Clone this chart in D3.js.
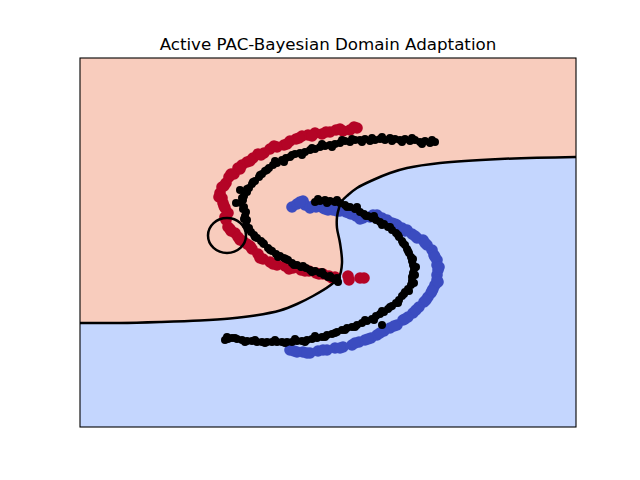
<!DOCTYPE html>
<html>
<head>
<meta charset="utf-8">
<script src="https://cdn.jsdelivr.net/npm/d3@7"></script>
<style>
  html, body { margin: 0; padding: 0; background: #ffffff; }
  svg { display: block; }
</style>
</head>
<body>
<svg id="chart" width="640" height="480"></svg>
<script>
// ---------------- data ----------------
const title = "Active PAC-Bayesian Domain Adaptation";
const xDomain = [-2.0, 2.96];
const yDomain = [-1.5, 2.19];

// labelled source points, class +1 (red)
const sourceRed = [
  [0.77,1.49],[0.70,1.47],[0.63,1.46],[0.56,1.47],[0.50,1.45],[0.42,1.43],[0.35,1.44],[0.28,1.42],
  [0.22,1.41],[0.16,1.38],[0.10,1.36],[0.04,1.32],[-0.03,1.30],[-0.10,1.28],[-0.16,1.24],[-0.22,1.23],
  [-0.27,1.19],[-0.33,1.15],[-0.38,1.12],[-0.42,1.09],[-0.46,1.03],[-0.51,1.00],[-0.54,0.94],[-0.58,0.90],
  [-0.60,0.84],[-0.58,0.79],[-0.57,0.74],[-0.55,0.69],[-0.52,0.64],[-0.54,0.57],[-0.52,0.50],[-0.49,0.46],
  [-0.45,0.44],[-0.42,0.40],[-0.37,0.36],[-0.33,0.33],[-0.28,0.28],[-0.22,0.23],[-0.17,0.18],[-0.10,0.15],
  [-0.03,0.12],[0.05,0.11],[0.13,0.09],[0.21,0.07],[0.29,0.06],[0.36,0.04],[0.43,0.03],[0.49,0.01],
  [0.55,0.00],[0.68,0.01],[0.69,-0.03],[0.80,-0.01],[0.84,-0.01],
  [0.74,1.50],[0.60,1.48],[0.46,1.45],[0.32,1.41],[0.19,1.39],[0.07,1.33],[-0.06,1.31],[-0.19,1.22],
  [-0.30,1.16],[-0.40,1.08],[-0.49,1.03],[-0.56,0.91],[-0.61,0.80],[-0.56,0.71],[-0.55,0.60],[-0.50,0.48],
  [-0.40,0.37],[-0.30,0.31],[-0.20,0.19],[-0.07,0.13],[0.09,0.08],[0.25,0.06],[0.39,0.03],[0.52,-0.01]
];

// labelled source points, class -1 (blue)
const sourceBlue = [
  [0.12,0.70],[0.17,0.73],[0.23,0.76],[0.25,0.72],[0.30,0.69],[0.36,0.70],[0.43,0.69],[0.48,0.67],
  [0.53,0.67],[0.60,0.66],[0.66,0.65],[0.71,0.63],[0.76,0.61],[0.83,0.59],[0.90,0.60],[0.97,0.62],
  [1.02,0.59],[1.07,0.57],[1.12,0.54],[1.17,0.52],[1.22,0.49],[1.27,0.47],[1.32,0.43],[1.37,0.39],
  [1.43,0.37],[1.47,0.32],[1.52,0.27],[1.54,0.22],[1.57,0.17],[1.57,0.12],[1.58,0.07],[1.57,0.02],
  [1.57,-0.03],[1.55,-0.08],[1.53,-0.12],[1.51,-0.16],[1.48,-0.20],[1.44,-0.25],[1.39,-0.30],[1.33,-0.36],
  [1.28,-0.40],[1.23,-0.43],[1.17,-0.48],[1.10,-0.51],[1.04,-0.54],[0.97,-0.58],[0.91,-0.61],[0.85,-0.63],
  [0.79,-0.65],[0.72,-0.68],[0.63,-0.70],[0.55,-0.71],[0.47,-0.73],[0.38,-0.74],[0.30,-0.76],[0.23,-0.75],
  [0.17,-0.75],[0.10,-0.73],
  [0.20,0.75],[0.33,0.71],[0.45,0.68],[0.57,0.66],[0.69,0.64],[0.80,0.58],[0.93,0.62],[1.05,0.56],
  [1.15,0.53],[1.25,0.46],[1.35,0.41],[1.45,0.34],[1.55,0.20],[1.59,0.10],[1.58,-0.05],[1.52,-0.14],
  [1.46,-0.23],[1.36,-0.33],[1.25,-0.42],[1.14,-0.49],[1.00,-0.56],[0.88,-0.62],[0.75,-0.66],[0.60,-0.71],
  [0.43,-0.73],[0.27,-0.76],[0.14,-0.74]
];

// unlabelled target points (black)
const target = [
  [1.55,1.35],[1.50,1.34],[1.45,1.36],[1.40,1.35],[1.35,1.37],[1.30,1.36],[1.25,1.38],[1.20,1.37],
  [1.15,1.38],[1.10,1.39],[1.05,1.37],[1.00,1.38],[0.95,1.37],[0.90,1.36],[0.85,1.38],[0.80,1.37],
  [0.75,1.37],[0.70,1.35],[0.65,1.36],[0.60,1.34],[0.55,1.33],[0.50,1.32],[0.45,1.31],[0.40,1.30],
  [0.35,1.28],[0.30,1.27],[0.25,1.25],[0.20,1.24],[0.15,1.23],[0.10,1.20],[0.06,1.19],[0.02,1.17],
  [-0.03,1.14],[-0.07,1.12],[-0.11,1.09],[-0.15,1.06],[-0.18,1.03],[-0.21,1.00],[-0.25,0.96],[-0.28,0.93],
  [-0.31,0.89],[-0.33,0.85],[-0.36,0.81],[-0.37,0.77],[-0.39,0.74],[-0.36,0.70],[-0.34,0.65],[-0.35,0.61],
  [-0.33,0.57],[-0.34,0.52],[-0.32,0.48],[-0.29,0.45],[-0.26,0.42],[-0.23,0.39],[-0.19,0.36],[-0.16,0.33],
  [-0.12,0.29],[-0.08,0.26],[-0.04,0.23],[0.00,0.21],[0.04,0.19],[0.08,0.17],[0.12,0.14],[0.17,0.12],
  [0.21,0.10],[0.26,0.09],[0.30,0.07],[0.35,0.06],[0.40,0.04],[0.44,0.02],[0.48,0.00],[0.52,-0.01],
  [0.56,-0.03],[0.58,-0.05],[-0.44,0.74],[-0.40,0.87],
  [1.52,1.37],[1.42,1.33],[1.32,1.39],[1.22,1.35],[1.12,1.36],[1.02,1.40],[0.92,1.39],[0.82,1.35],
  [0.72,1.38],[0.62,1.37],[0.52,1.30],[0.42,1.33],[0.32,1.29],[0.22,1.22],[0.12,1.22],[0.04,1.15],
  [-0.05,1.16],[-0.13,1.07],[-0.20,1.02],[-0.27,0.95],[-0.33,0.88],[-0.38,0.79],[-0.37,0.68],[-0.36,0.58],
  [-0.31,0.49],[-0.25,0.40],[-0.17,0.34],[-0.10,0.27],[-0.02,0.20],[0.06,0.18],[0.14,0.12],[0.23,0.11],
  [0.32,0.05],[0.42,0.05],[0.50,0.01],[0.57,-0.01],
  [0.35,0.75],[0.40,0.76],[0.45,0.77],[0.50,0.76],[0.55,0.75],[0.60,0.74],[0.65,0.72],[0.70,0.70],
  [0.75,0.68],[0.80,0.65],[0.84,0.63],[0.88,0.61],[0.92,0.59],[0.96,0.57],[1.00,0.55],[1.04,0.53],
  [1.08,0.50],[1.12,0.47],[1.16,0.44],[1.19,0.40],[1.22,0.36],[1.25,0.32],[1.27,0.28],[1.29,0.24],
  [1.31,0.20],[1.32,0.16],[1.33,0.12],[1.34,0.08],[1.33,0.04],[1.32,0.00],[1.32,-0.04],[1.31,-0.08],
  [1.28,-0.12],[1.25,-0.15],[1.22,-0.19],[1.19,-0.23],[1.16,-0.26],[1.12,-0.29],[1.08,-0.32],[1.04,-0.35],
  [1.00,-0.37],[0.96,-0.39],[0.92,-0.42],[0.87,-0.44],[0.82,-0.46],[0.77,-0.48],[0.72,-0.50],[0.67,-0.51],
  [0.62,-0.53],[0.57,-0.55],[0.52,-0.57],[0.47,-0.58],[0.42,-0.60],[0.37,-0.61],[0.32,-0.62],[0.27,-0.63],
  [0.22,-0.64],[0.17,-0.64],[0.12,-0.65],[0.07,-0.65],[0.02,-0.65],[-0.03,-0.65],[-0.08,-0.65],[-0.13,-0.65],
  [-0.18,-0.65],[-0.23,-0.65],[-0.28,-0.64],[-0.33,-0.64],[-0.38,-0.63],[-0.43,-0.62],[-0.48,-0.61],[-0.53,-0.60],
  [-0.55,-0.63],[1.02,-0.48],
  [0.38,0.78],[0.47,0.74],[0.57,0.77],[0.67,0.70],[0.77,0.70],[0.86,0.61],[0.94,0.61],[1.02,0.52],
  [1.10,0.50],[1.18,0.42],[1.23,0.34],[1.28,0.26],[1.33,0.18],[1.36,0.10],[1.35,0.02],[1.34,-0.06],
  [1.29,-0.14],[1.24,-0.17],[1.18,-0.26],[1.10,-0.30],[1.02,-0.34],[0.94,-0.43],[0.85,-0.43],[0.75,-0.50],
  [0.65,-0.53],[0.55,-0.56],[0.45,-0.60],[0.35,-0.59],[0.25,-0.65],[0.15,-0.62],[0.05,-0.66],[-0.05,-0.63],
  [-0.15,-0.66],[-0.25,-0.63],[-0.35,-0.65],[-0.45,-0.61],[-0.52,-0.62]
];

// decision boundary (zero level of the classifier), left to right
const boundary = [
  [-2.00,-0.46],[-1.60,-0.46],[-1.20,-0.45],[-0.80,-0.435],[-0.50,-0.415],[-0.25,-0.385],[0.00,-0.335],
  [0.17,-0.27],[0.33,-0.19],[0.50,-0.085],[0.59,0.00],[0.62,0.14],[0.60,0.34],[0.57,0.49],[0.57,0.60],
  [0.59,0.69],[0.62,0.76],[0.68,0.82],[0.77,0.89],[0.93,0.97],[1.10,1.04],[1.27,1.09],[1.60,1.14],
  [2.20,1.18],[2.96,1.20]
];

// small closed contour (island) near the red moon: centre and radii
const islandCenter = [-0.53, 0.415];
const islandRadius = [0.19, 0.175];

// ---------------- drawing ----------------
const svg = d3.select("#chart");
const margin = {left: 80, right: 64, top: 58, bottom: 53};
const W = 640, H = 480;
const x = d3.scaleLinear().domain(xDomain).range([margin.left, W - margin.right]);
const y = d3.scaleLinear().domain(yDomain).range([H - margin.bottom, margin.top]);

const colors = {
  regionPos: "#f8ccbd",
  regionNeg: "#c4d6fe",
  red: "#b40426",
  blue: "#3b4cc0",
  black: "#000000"
};

svg.append("defs").append("clipPath").attr("id", "clip")
  .append("rect")
  .attr("x", x(xDomain[0])).attr("y", y(yDomain[1]))
  .attr("width", x(xDomain[1]) - x(xDomain[0]))
  .attr("height", y(yDomain[0]) - y(yDomain[1]));

const plot = svg.append("g").attr("clip-path", "url(#clip)");

plot.append("rect")
  .attr("x", x(xDomain[0])).attr("y", y(yDomain[1]))
  .attr("width", x(xDomain[1]) - x(xDomain[0]))
  .attr("height", y(yDomain[0]) - y(yDomain[1]))
  .attr("fill", colors.regionNeg);

const curve = d3.curveCatmullRom.alpha(0.5);
const lineGen = d3.line().x(d => x(d[0])).y(d => y(d[1])).curve(curve);

const bPath = lineGen(boundary);
const topPath = `L${x(xDomain[1])},${y(yDomain[1])}L${x(xDomain[0])},${y(yDomain[1])}Z`;
plot.append("path")
  .attr("d", bPath + topPath)
  .attr("fill", colors.regionPos);

plot.append("g").selectAll("circle").data(sourceRed).join("circle")
  .attr("cx", d => x(d[0])).attr("cy", d => y(d[1])).attr("r", 5.8)
  .attr("fill", colors.red);
plot.append("g").selectAll("circle").data(sourceBlue).join("circle")
  .attr("cx", d => x(d[0])).attr("cy", d => y(d[1])).attr("r", 5.8)
  .attr("fill", colors.blue);

plot.append("g").selectAll("circle").data(target).join("circle")
  .attr("cx", d => x(d[0])).attr("cy", d => y(d[1])).attr("r", 4)
  .attr("fill", colors.black);

plot.append("path")
  .attr("d", bPath)
  .attr("fill", "none").attr("stroke", "#000").attr("stroke-width", 2.5);

plot.append("ellipse")
  .attr("cx", x(islandCenter[0])).attr("cy", y(islandCenter[1]))
  .attr("rx", x(islandCenter[0] + islandRadius[0]) - x(islandCenter[0]))
  .attr("ry", y(islandCenter[1]) - y(islandCenter[1] + islandRadius[1]))
  .attr("fill", "none").attr("stroke", "#000").attr("stroke-width", 2.5);

svg.append("rect")
  .attr("x", x(xDomain[0])).attr("y", y(yDomain[1]))
  .attr("width", x(xDomain[1]) - x(xDomain[0]))
  .attr("height", y(yDomain[0]) - y(yDomain[1]))
  .attr("fill", "none").attr("stroke", "#000").attr("stroke-width", 1.1);

svg.append("text")
  .attr("x", (x(xDomain[0]) + x(xDomain[1])) / 2)
  .attr("y", margin.top - 8)
  .attr("text-anchor", "middle")
  .attr("font-family", "DejaVu Sans, sans-serif")
  .attr("font-size", "16.7px")
  .attr("fill", "#000")
  .text(title);
</script>
</body>
</html>
